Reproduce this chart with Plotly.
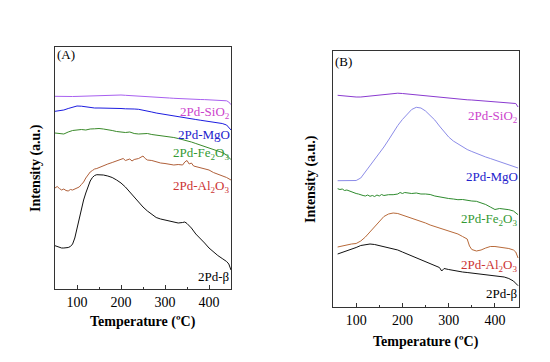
import plotly.graph_objects as go

# ---------------- Panel A data (Temperature in °C, intensity in a.u.) ----------------
tA_sio2 = [50, 60, 70, 80, 90, 100, 110, 120, 130, 140, 150, 160, 170, 180, 190, 200, 210, 220, 230, 240,
           250, 260, 270, 280, 290, 300, 310, 320, 330, 340, 350, 360, 370, 380, 390, 400, 410, 420, 430, 440, 445, 450]
iA_sio2 = [192.7, 192.5, 192.3, 192.4, 192.5, 192.6, 192.8, 193, 193.2, 193.4, 193.6, 193.8, 194, 193.9, 194.1, 194,
           193.7, 193.5, 193.2, 193, 192.7, 192.4, 192.1, 191.8, 191.5, 191.2, 191, 190.7, 190.4, 190.2, 190, 189.8,
           189.6, 189.5, 189.4, 189.3, 189.2, 189, 188.8, 188.2, 187, 184.3]

tA_mgo = [50, 60, 70, 80, 90, 100, 110, 120, 130, 140, 150, 160, 170, 180, 190, 200, 210, 220, 230, 240,
          250, 260, 270, 280, 290, 300, 310, 320, 330, 340, 350, 360, 370, 380, 390, 400, 410, 420, 430, 440, 445, 450]
iA_mgo = [177.7, 178, 179, 180.5, 182, 183, 182.8, 182, 181.5, 181, 181, 181, 181, 180.7, 180.5, 180.5, 180.2, 180.3,
          180, 179.7, 179, 178, 177, 176, 175.2, 174.5, 173.7, 173, 172.2, 171.5, 170.7, 170, 169.5, 168.8, 168.2,
          167.7, 167, 166.2, 165.5, 164, 162, 159]

tA_fe2o3 = [50, 60, 70, 80, 90, 100, 110, 120, 130, 140, 150, 160, 170, 180, 190, 200, 210, 220, 230, 240,
            250, 260, 270, 280, 290, 300, 310, 320, 330, 340, 350, 360, 370, 380, 390, 400, 410, 420, 430, 440, 450]
iA_fe2o3 = [156, 155.5, 155, 157, 158.5, 159, 159.5, 159, 160, 160.2, 160.5, 160, 159.5, 158.5, 157.5, 157, 156.5,
            157, 155.5, 155, 155, 155.5, 154.5, 154, 153.5, 153, 152.5, 151.5, 150.5, 149.5, 148.5, 147, 145.5, 144,
            142.5, 141.5, 140, 138.5, 136.5, 134, 129.3]

tA_al2o3 = [50, 55, 60, 65, 70, 75, 80, 85, 90, 95, 100, 105, 110, 115, 120, 125, 130, 135, 140, 145, 150, 160,
            170, 180, 190, 200, 205, 210, 220, 225, 230, 240, 250, 255, 260, 270, 280, 290, 300, 310, 320, 330,
            340, 345, 350, 355, 360, 365, 370, 380, 390, 400, 410, 420, 430, 440, 450]
iA_al2o3 = [101, 102.5, 100.5, 99, 100, 98.5, 98, 99.5, 99, 100, 101, 102, 104.5, 107, 111, 114, 117, 118.5, 120,
            120.5, 121.5, 123.5, 125, 126.5, 128, 129, 130.5, 128.5, 130, 128, 129.5, 130.5, 133, 130.5, 129, 128.5,
            127, 126, 125.5, 125, 124, 124.5, 124, 127, 128.5, 125, 126, 123, 122.5, 121.5, 120, 119, 116.5, 115,
            113.5, 111.5, 109]

tA_beta = [50, 55, 60, 65, 70, 75, 80, 85, 90, 95, 100, 105, 110, 115, 120, 125, 130, 135, 140, 145, 150, 160,
           170, 180, 190, 200, 210, 220, 230, 240, 250, 260, 270, 280, 290, 300, 310, 320, 330, 340, 345, 350,
           360, 370, 380, 390, 400, 410, 420, 430, 440, 445, 450]
iA_beta = [43.3, 42.5, 41.5, 41, 41, 41, 41.5, 42.5, 45, 51, 61, 71, 80, 89, 96, 103, 108, 111.5, 113.5, 114.3,
           114.3, 114, 113, 111.5, 109, 106, 102, 97, 92, 86, 82, 78, 74.5, 71.5, 70, 69, 68, 67, 66, 66.5, 67,
           65.5, 61, 55, 51, 46, 41, 37, 33.5, 30.5, 27.5, 25, 19]

# ---------------- Panel B data ----------------
tB_sio2 = [60, 70, 80, 90, 100, 110, 120, 130, 140, 150, 160, 170, 180, 190, 200, 210, 220, 230, 240, 250, 260,
           270, 280, 290, 300, 310, 320, 330, 340, 350, 360, 370, 380, 390, 400, 410, 420, 430, 440, 445, 450]
iB_sio2 = [211.7, 211.2, 210.5, 210.2, 210, 210, 210.5, 210.8, 211.2, 211.7, 212.2, 212.8, 213.3, 213.8, 213.5, 213,
           213.2, 212.7, 212.2, 211.7, 211.2, 210.7, 210.2, 209.7, 209.2, 208.7, 208, 207.5, 207.2, 207, 206.7,
           206.4, 206.1, 205.8, 205.5, 205.2, 204.8, 204.4, 204, 203.5, 200]

tB_mgo = [60, 70, 80, 90, 100, 110, 120, 130, 140, 150, 160, 170, 180, 190, 200, 210, 220, 230, 240, 250, 260,
          270, 280, 290, 300, 310, 320, 330, 340, 350, 360, 370, 380, 390, 400, 410, 420, 430, 440, 450]
iB_mgo = [126.3, 126.3, 126.3, 126.3, 126.5, 129, 135, 142, 148, 154, 160, 167, 174.5, 181.5, 187.5, 193, 197.5,
          199.7, 199, 196, 192, 187, 181, 175, 170, 166, 163, 160, 157.5, 155.5, 153.5, 151.5, 150, 148.5, 147,
          145.5, 144, 142.5, 141, 139]

tB_fe2o3 = [60, 65, 70, 75, 80, 85, 90, 95, 100, 105, 110, 115, 120, 125, 130, 135, 140, 145, 150, 155, 160, 170,
            180, 190, 195, 200, 205, 210, 220, 230, 240, 250, 260, 270, 280, 290, 300, 310, 320, 330, 340, 350,
            360, 370, 380, 390, 400, 410, 420, 430, 440, 450]
iB_fe2o3 = [118.3, 117.5, 118, 116.5, 117, 116, 115.7, 114.5, 113.5, 113, 112, 111.5, 111, 112, 110.7, 111.5, 110.5,
            112, 111, 112.5, 111.5, 112.3, 112.3, 113, 114.5, 113.5, 114.5, 114, 113.5, 114, 113, 113, 112.5, 111,
            110, 109, 108.5, 108, 107.3, 107.5, 106.5, 106, 105.7, 104, 102.5, 100, 97.5, 98.5, 98, 97.3, 96, 92.3]

tB_al2o3 = [60, 70, 80, 90, 100, 110, 120, 130, 140, 150, 160, 170, 180, 190, 200, 210, 220, 230, 240, 250, 260,
            270, 280, 290, 300, 310, 320, 330, 335, 340, 345, 350, 360, 370, 380, 390, 400, 410, 420, 430, 440,
            445, 450]
iB_al2o3 = [60, 61, 62.5, 63, 63.5, 66, 70, 75, 81, 86, 90.5, 93, 94, 93.5, 92, 90.5, 89, 87.5, 86, 84, 82, 80.5,
            79, 77.5, 76, 74.5, 73, 70.5, 69, 68, 61, 57.5, 56, 57, 59, 60.5, 60.5, 60, 59.5, 58.5, 57, 55, 49]

tB_beta = [60, 70, 80, 90, 100, 110, 120, 130, 140, 150, 160, 170, 180, 190, 200, 210, 220, 230, 240, 250, 260,
           270, 280, 285, 290, 300, 310, 320, 330, 340, 350, 360, 370, 380, 390, 400, 410, 420, 430, 440, 450]
iB_beta = [53, 54.5, 56, 58, 59.5, 61.5, 62.5, 63, 62.5, 61.5, 60.5, 59.5, 58.5, 57, 55, 53, 51.5, 49.5, 47.5, 45.5,
           43.5, 41.5, 39.5, 36, 38.5, 37.5, 36.5, 35.7, 35, 34.5, 34, 33.5, 33, 32.5, 32, 31.5, 30.7, 30, 28.5,
           26, 21.3]

# Labels and their heights (a.u.)
labels = ["2Pd-SiO<sub>2</sub>", "2Pd-MgO", "2Pd-Fe<sub>2</sub>O<sub>3</sub>", "2Pd-Al<sub>2</sub>O<sub>3</sub>", "2Pd-β"]
label_y_A = [177, 154.3, 135.3, 103, 12.7]
label_y_B = [190.7, 130.7, 87.3, 42, 13.7]
label_colors = ["#cc44cc", "#2222cc", "#339933", "#cc3333", "#000000"]

x_ticks = [100, 200, 300, 400]

FONT = "Times New Roman, Liberation Serif, Times, serif"

fig = go.Figure()

series_A = [(tA_sio2, iA_sio2, "#a860f0"), (tA_mgo, iA_mgo, "#1c1ce0"), (tA_fe2o3, iA_fe2o3, "#3a8a2a"),
            (tA_al2o3, iA_al2o3, "#b0603a"), (tA_beta, iA_beta, "#111111")]
series_B = [(tB_sio2, iB_sio2, "#8a3ad0"), (tB_mgo, iB_mgo, "#8c8ce8"), (tB_fe2o3, iB_fe2o3, "#2e8b2e"),
            (tB_al2o3, iB_al2o3, "#b86a3a"), (tB_beta, iB_beta, "#111111")]

for (t, i, c), name in zip(series_A, labels):
    fig.add_trace(go.Scatter(x=t, y=i, mode="lines", line=dict(color=c, width=1), name=name,
                             xaxis="x", yaxis="y", showlegend=False))
for (t, i, c), name in zip(series_B, labels):
    fig.add_trace(go.Scatter(x=t, y=i, mode="lines", line=dict(color=c, width=1), name=name,
                             xaxis="x2", yaxis="y2", showlegend=False))

ann = []
for lab, y, col in zip(labels, label_y_A, label_colors):
    ann.append(dict(text=lab, xref="x domain", yref="y", x=1.0, y=y, xanchor="right", yanchor="middle",
                    showarrow=False, borderpad=0, font=dict(family=FONT, size=13, color=col)))
for lab, y, col in zip(labels, label_y_B, label_colors):
    ann.append(dict(text=lab, xref="x2 domain", yref="y2", x=1.0, y=y, xanchor="right", yanchor="middle",
                    showarrow=False, borderpad=0, font=dict(family=FONT, size=13, color=col)))

ann.append(dict(text="(A)", xref="x domain", yref="y domain", x=0.0, y=0.967, xanchor="left", yanchor="middle",
                showarrow=False, font=dict(family=FONT, size=13, color="black")))
ann.append(dict(text="(B)", xref="x2 domain", yref="y2 domain", x=0.0, y=0.96, xanchor="left", yanchor="middle",
                showarrow=False, font=dict(family=FONT, size=13, color="black")))

ann.append(dict(text="<b>Intensity (a.u.)</b>", xref="paper", yref="paper", x=28 / 550, y=(362 - 160) / 362,
                textangle=-90, xanchor="center", yanchor="middle", showarrow=False,
                font=dict(family=FONT, size=14, color="black")))
ann.append(dict(text="<b>Intensity (a.u.)</b>", xref="paper", yref="paper", x=303 / 550, y=(362 - 171) / 362,
                textangle=-90, xanchor="center", yanchor="middle", showarrow=False,
                font=dict(family=FONT, size=14, color="black")))
ann.append(dict(text="<b>Temperature (ºC)</b>", xref="paper", yref="paper", x=135 / 550, y=(362 - 314) / 362,
                xanchor="center", yanchor="middle", showarrow=False,
                font=dict(family=FONT, size=14, color="black")))
ann.append(dict(text="<b>Temperature (ºC)</b>", xref="paper", yref="paper", x=418 / 550, y=(362 - 334) / 362,
                xanchor="center", yanchor="middle", showarrow=False,
                font=dict(family=FONT, size=14, color="black")))

xaxis_common = dict(showline=True, linecolor="#333333", linewidth=1, mirror=True, showgrid=False, zeroline=False,
                    ticks="inside", ticklen=4, tickcolor="#333333", tickvals=x_ticks,
                    minor=dict(ticks="inside", ticklen=2, dtick=50, tick0=0, tickcolor="#333333"),
                    tickfont=dict(family=FONT, size=14, color="black"))
yaxis_common = dict(showline=True, linecolor="#333333", linewidth=1, mirror=True, showgrid=False, zeroline=False,
                    showticklabels=False, ticks="")

fig.update_layout(
    width=550, height=362,
    margin=dict(l=0, r=0, t=0, b=0),
    paper_bgcolor="white", plot_bgcolor="white",
    xaxis=dict(domain=[47 / 550, 223 / 550], range=[50, 450], anchor="y", **xaxis_common),
    yaxis=dict(domain=[(362 - 281) / 362, (362 - 39) / 362], range=[0, 242], anchor="x", **yaxis_common),
    xaxis2=dict(domain=[325 / 550, 511 / 550], range=[50, 452], anchor="y2", **xaxis_common),
    yaxis2=dict(domain=[(362 - 299) / 362, (362 - 43) / 362], range=[0, 256], anchor="x2", **yaxis_common),
    annotations=ann,
    font=dict(family=FONT),
)

fig.write_html("out.html")
